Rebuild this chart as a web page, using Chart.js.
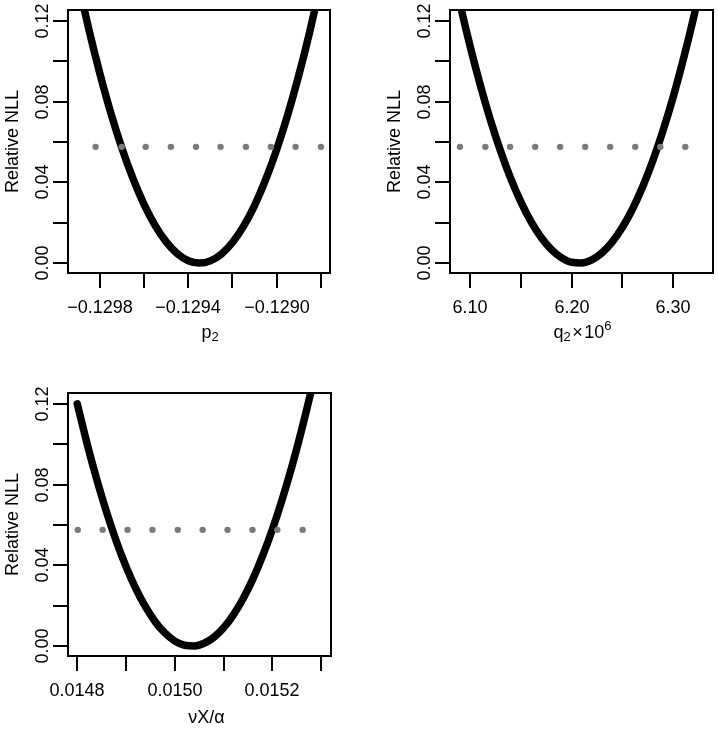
<!DOCTYPE html>
<html>
<head>
<meta charset="utf-8">
<script src="https://cdn.jsdelivr.net/npm/chart.js@4"></script>
<style>
  html, body { margin: 0; padding: 0; background: #fff; }
  #page { position: relative; width: 718px; height: 729px; }
  .panel { position: absolute; }
</style>
</head>
<body>
<div id="page">
  <div class="panel" style="left:0;top:0;width:359px;height:364px"><canvas id="p2Chart"></canvas></div>
  <div class="panel" style="left:359px;top:0;width:359px;height:364px"><canvas id="q2Chart"></canvas></div>
  <div class="panel" style="left:0;top:365px;width:359px;height:364px"><canvas id="nuChart"></canvas></div>
</div>
<script>
'use strict';

const $ = id => document.getElementById(id);

// ── Data ─────────────────────────────────────────────────────────────────────

const CUTOFF = 0.0576;

const Y_TICKS       = [0, 0.02, 0.04, 0.06, 0.08, 0.10, 0.12];
const Y_TICK_LABELS = ['0.00', '', '0.04', '', '0.08', '', '0.12'];

// p2 profile
const P2_X = [
  -0.12990, -0.12985, -0.12980, -0.12975, -0.12970, -0.12965, -0.12960, -0.12955,
  -0.12950, -0.12945, -0.12940, -0.12935, -0.12930, -0.12925, -0.12920, -0.12915,
  -0.12910, -0.12905, -0.12900, -0.12895, -0.12890, -0.12885, -0.12880,
];
const P2_NLL = [
  0.1398, 0.1156, 0.0937, 0.0740, 0.0567, 0.0417, 0.0290, 0.0186,
  0.0105, 0.0047, 0.0012, 0.0000, 0.0011, 0.0045, 0.0102, 0.0182,
  0.0285, 0.0412, 0.0561, 0.0733, 0.0928, 0.1146, 0.1388,
];
const P2_DOTS_X = [
  -0.129820, -0.129702, -0.129593, -0.129479, -0.129365,
  -0.129254, -0.129139, -0.129026, -0.128914, -0.128799,
];
const P2_TICKS       = [-0.1298, -0.1296, -0.1294, -0.1292, -0.1290, -0.1288];
const P2_TICK_LABELS = ['\u22120.1298', '', '\u22120.1294', '', '\u22120.1290', ''];

// q2 profile (x 10^6)
const Q2_X = [
  6.08, 6.09, 6.10, 6.11, 6.12, 6.13, 6.14, 6.15, 6.16, 6.17, 6.18, 6.19, 6.20,
  6.21, 6.22, 6.23, 6.24, 6.25, 6.26, 6.27, 6.28, 6.29, 6.30, 6.31, 6.32, 6.33,
];
const Q2_NLL = [
  0.1518, 0.1288, 0.1077, 0.0885, 0.0711, 0.0557, 0.0421, 0.0305, 0.0207, 0.0128, 0.0068, 0.0027, 0.0004,
  0.0001, 0.0016, 0.0051, 0.0104, 0.0176, 0.0267, 0.0377, 0.0506, 0.0654, 0.0820, 0.1006, 0.1210, 0.1433,
];
const Q2_DOTS_X = [
  6.0901, 6.1151, 6.1395, 6.1642, 6.1888, 6.2135, 6.2381, 6.2628, 6.2875, 6.3121,
];
const Q2_TICKS       = [6.10, 6.15, 6.20, 6.25, 6.30];
const Q2_TICK_LABELS = ['6.10', '', '6.20', '', '6.30'];

// nuX/alpha profile
const NU_X = [
  0.01480, 0.01482, 0.01484, 0.01486, 0.01488, 0.01490, 0.01492, 0.01494, 0.01496,
  0.01498, 0.01500, 0.01502, 0.01504, 0.01506, 0.01508, 0.01510, 0.01512, 0.01514,
  0.01516, 0.01518, 0.01520, 0.01522, 0.01524, 0.01526, 0.01528, 0.01530,
];
const NU_NLL = [
  0.1200, 0.1004, 0.0825, 0.0664, 0.0520, 0.0394, 0.0285, 0.0194, 0.0120,
  0.0064, 0.0025, 0.0004, 0.0001, 0.0014, 0.0044, 0.0091, 0.0155, 0.0236,
  0.0333, 0.0448, 0.0579, 0.0727, 0.0891, 0.1073, 0.1271, 0.1486,
];
const NU_DOTS_X = [
  0.014801, 0.014852, 0.014903, 0.014954, 0.015006,
  0.015057, 0.015108, 0.015159, 0.015210, 0.015262,
];
const NU_TICKS       = [0.0148, 0.0149, 0.0150, 0.0151, 0.0152, 0.0153];
const NU_TICK_LABELS = ['0.0148', '', '0.0150', '', '0.0152', ''];

// ── Style ────────────────────────────────────────────────────────────────────

const FONT_FAMILY = '"Liberation Sans", Arial, Helvetica, sans-serif';
const FONT_SIZE   = 18;
const TICK_LEN    = 15;

// ── Frame plugin: box, ticks, labels, titles ─────────────────────────────────

function drawRich(ctx, parts, cx, baseline) {
  const fontFor = p => `${p.sub || p.sup ? Math.round(FONT_SIZE * 0.72) : FONT_SIZE}px ${FONT_FAMILY}`;
  let total = 0;
  parts.forEach(p => { ctx.font = fontFor(p); total += ctx.measureText(p.t).width + (p.gap || 0); });
  let x = cx - total / 2;
  ctx.textAlign = 'left';
  ctx.textBaseline = 'alphabetic';
  parts.forEach(p => {
    ctx.font = fontFor(p);
    const dy = p.sub ? 3 : p.sup ? -8 : 0;
    ctx.fillText(p.t, x + (p.gap || 0) / 2, baseline + dy);
    x += ctx.measureText(p.t).width + (p.gap || 0);
  });
}

const framePlugin = {
  id: 'frame',
  afterDatasetsDraw(chart, args, opts) {
    const { ctx, chartArea: a, scales: { x, y } } = chart;
    ctx.save();
    ctx.strokeStyle = '#000';
    ctx.fillStyle = '#000';
    ctx.lineWidth = 2;
    ctx.strokeRect(a.left, a.top, a.right - a.left, a.bottom - a.top);

    ctx.font = `${FONT_SIZE}px ${FONT_FAMILY}`;

    // x axis
    opts.xTicks.forEach((v, i) => {
      const px = Math.round(x.getPixelForValue(v));
      ctx.beginPath();
      ctx.moveTo(px, a.bottom);
      ctx.lineTo(px, a.bottom + TICK_LEN);
      ctx.stroke();
      if (opts.xLabels[i]) {
        ctx.textAlign = 'center';
        ctx.textBaseline = 'alphabetic';
        ctx.fillText(opts.xLabels[i], px, a.bottom + 40);
      }
    });

    // y axis
    Y_TICKS.forEach((v, i) => {
      const py = Math.round(y.getPixelForValue(v));
      ctx.beginPath();
      ctx.moveTo(a.left, py);
      ctx.lineTo(a.left - TICK_LEN, py);
      ctx.stroke();
      if (Y_TICK_LABELS[i]) {
        ctx.save();
        ctx.translate(a.left - 20, py);
        ctx.rotate(-Math.PI / 2);
        ctx.textAlign = 'center';
        ctx.textBaseline = 'alphabetic';
        ctx.fillText(Y_TICK_LABELS[i], 0, 0);
        ctx.restore();
      }
    });

    // titles
    ctx.save();
    ctx.translate(a.left - 50, (a.top + a.bottom) / 2);
    ctx.rotate(-Math.PI / 2);
    ctx.textAlign = 'center';
    ctx.textBaseline = 'alphabetic';
    ctx.fillText('Relative NLL', 0, 0);
    ctx.restore();

    drawRich(ctx, opts.xTitle, (a.left + a.right) / 2 + (opts.titleShift || 0), a.bottom + opts.titleOffset);
    ctx.restore();
  },
};

// ── Charts ───────────────────────────────────────────────────────────────────

function makePanel(id, cfg) {
  const curve = cfg.xs.map((x, i) => ({ x, y: cfg.nll[i] }));
  const dots  = cfg.dotsX.map(x => ({ x, y: CUTOFF }));

  return new Chart($(id).getContext('2d'), {
    type: 'line',
    data: {
      datasets: [
        {
          label: 'cutoff',
          data: dots,
          showLine: false,
          pointRadius: 3.2,
          pointBackgroundColor: '#7a7a7a',
          pointBorderWidth: 0,
          order: 0,
        },
        {
          label: 'profile',
          data: curve,
          borderColor: '#000',
          borderWidth: 7.5,
          borderCapStyle: 'round',
          borderJoinStyle: 'round',
          cubicInterpolationMode: 'monotone',
          pointRadius: 0,
          fill: false,
          order: 1,
        },
      ],
    },
    options: {
      responsive: true,
      maintainAspectRatio: false,
      animation: false,
      events: [],
      layout: { padding: { top: cfg.padTop, right: cfg.padRight, left: 0, bottom: 0 } },
      plugins: {
        legend: { display: false },
        tooltip: { enabled: false },
        frame: {
          xTicks: cfg.ticks,
          xLabels: cfg.tickLabels,
          xTitle: cfg.title,
          titleOffset: cfg.titleOffset,
          titleShift: cfg.titleShift,
        },
      },
      scales: {
        x: {
          type: 'linear',
          min: cfg.xMin,
          max: cfg.xMax,
          afterFit: s => { s.height = cfg.xAxisH; },
          ticks: { display: false },
          grid: { display: false },
          border: { display: false },
        },
        y: {
          type: 'linear',
          min: -0.0049,
          max: 0.1254,
          afterFit: s => { s.width = cfg.yAxisW; },
          ticks: { display: false },
          grid: { display: false },
          border: { display: false },
        },
      },
    },
    plugins: [framePlugin],
  });
}

makePanel('p2Chart', {
  xs: P2_X, nll: P2_NLL, dotsX: P2_DOTS_X,
  ticks: P2_TICKS, tickLabels: P2_TICK_LABELS,
  xMin: -0.129945, xMax: -0.128758,
  yAxisW: 68, xAxisH: 91, padTop: 10, padRight: 29,
  title: [{ t: 'p' }, { t: '2', sub: true }],
  titleOffset: 65, titleShift: 11,
});

makePanel('q2Chart', {
  xs: Q2_X, nll: Q2_NLL, dotsX: Q2_DOTS_X,
  ticks: Q2_TICKS, tickLabels: Q2_TICK_LABELS,
  xMin: 6.0803, xMax: 6.3394,
  yAxisW: 91, xAxisH: 91, padTop: 10, padRight: 5,
  title: [{ t: 'q' }, { t: '2', sub: true }, { t: '\u00d7', gap: 3 }, { t: '10' }, { t: '6', sup: true }],
  titleOffset: 65, titleShift: 1,
});

makePanel('nuChart', {
  xs: NU_X, nll: NU_NLL, dotsX: NU_DOTS_X,
  ticks: NU_TICKS, tickLabels: NU_TICK_LABELS,
  xMin: 0.014781, xMax: 0.015320,
  yAxisW: 68, xAxisH: 73, padTop: 28, padRight: 28,
  title: [{ t: '\u03bdX/\u03b1' }],
  titleOffset: 67, titleShift: 7,
});
</script>
</body>
</html>
